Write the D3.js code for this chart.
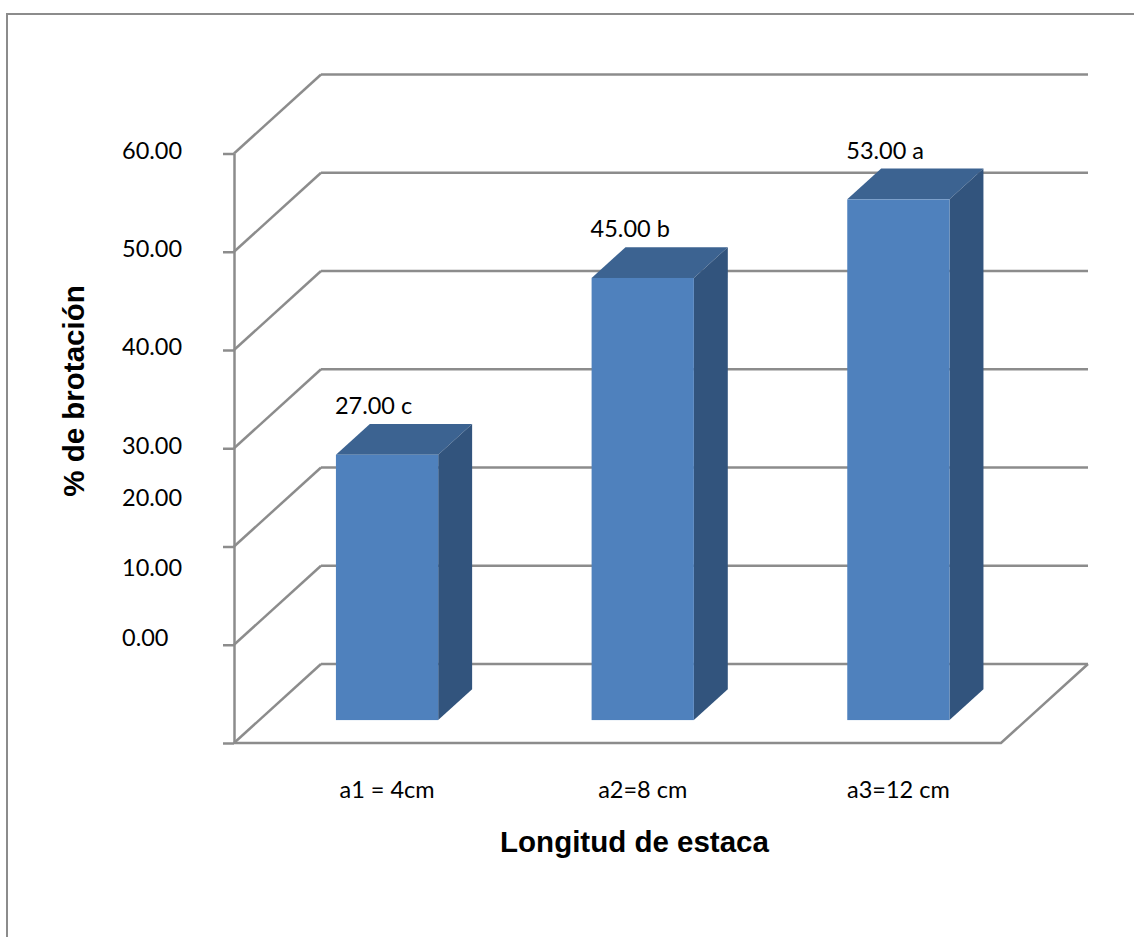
<!DOCTYPE html>
<html>
<head>
<meta charset="utf-8">
<script src="https://cdn.jsdelivr.net/npm/d3@7"></script>
<style>
  body { margin: 0; background: #fff; }
  .num { font-family: Lato, "Open Sans", sans-serif; font-size: 23.5px; fill: #000; }
  .title { font-family: "Liberation Sans", Arial, sans-serif; font-weight: bold; font-size: 29.5px; fill: #000; }
</style>
</head>
<body>
<div id="chart"></div>
<script>
// Data
const categories = ["a1 = 4cm", "a2=8 cm", "a3=12 cm"]
const values = [27, 45, 53]
const letters = ["c", "b", "a"]
const tickValues = [60, 50, 40, 30, 20, 10, 0]

const svgWidth = 1134
const svgHeight = 937

// 3D box layout: front floor edge, depth vector, top of value axis
const front = { x0: 234, x1: 1001, yBottom: 743, yTop: 153.5 }
const depth = { dx: 87, dy: -79 }
const barZ = [0.29, 0.68]
// the tick labels in the original sit off their ticks for the lower values
const tickLabelAt = [60, 50, 40, 30, 24.7, 17.6, 10.4]

const gridColor = "#8c8c8c"

let svg = d3
  .select("#chart")
  .append("svg")
  .attr("width", svgWidth)
  .attr("height", svgHeight)

// outer chart border (right / bottom run off the picture)
svg.append("rect")
  .attr("x", 7).attr("y", 14)
  .attr("width", 1200).attr("height", 1000)
  .attr("fill", "none")
  .attr("stroke", gridColor)
  .attr("stroke-width", 2)

let y = d3.scaleLinear().domain([0, 60]).range([front.yBottom, front.yTop])
let x = d3.scaleBand()
  .domain(categories)
  .range([front.x0, front.x1])
  .paddingInner(0.6)
  .paddingOuter(0.3)

// project a point at depth z (0 = front, 1 = back wall)
const px = (xv, z) => xv + z * depth.dx
const py = (yv, z) => yv + z * depth.dy
const pt = (xv, yv, z) => [px(xv, z), py(yv, z)]

let grid = svg.append("g")
  .attr("fill", "none")
  .attr("stroke", gridColor)
  .attr("stroke-width", 2.5)

// back wall lines + side wall diagonals
grid.selectAll(".back")
  .data(tickValues)
  .enter()
  .append("line")
  .attr("x1", px(front.x0, 1))
  .attr("x2", px(front.x1, 1))
  .attr("y1", d => py(y(d), 1))
  .attr("y2", d => py(y(d), 1))

grid.selectAll(".side")
  .data(tickValues)
  .enter()
  .append("line")
  .attr("x1", front.x0)
  .attr("y1", d => y(d))
  .attr("x2", px(front.x0, 1))
  .attr("y2", d => py(y(d), 1))

// floor front and right edges
grid.append("path")
  .attr("d", d3.line()([pt(front.x0, y(0), 0), pt(front.x1, y(0), 0), pt(front.x1, y(0), 1)]))

// vertical axis with ticks (labels drawn apart)
let yAxis = svg.append("g")
  .attr("transform", `translate(${front.x0},0)`)
  .call(d3.axisLeft(y).tickValues(tickValues).tickSize(11).tickSizeOuter(0).tickFormat(""))
yAxis.selectAll("path, line").attr("stroke", gridColor).attr("stroke-width", 2.5)

svg.append("g")
  .selectAll("text")
  .data(tickValues)
  .enter()
  .append("text")
  .attr("class", "num")
  .attr("x", 122)
  .attr("y", (d, i) => y(tickLabelAt[i]) - 3)
  .attr("dy", "0.36em")
  .text(d => d3.format(".2f")(d))

// bars
let bars = svg.append("g")
  .selectAll("g")
  .data(categories.map((c, i) => ({ cat: c, value: values[i], letter: letters[i] })))
  .enter()
  .append("g")

const [z0, z1] = barZ
bars.append("path")
  .attr("fill", "#3c6391")
  .attr("d", d => {
    let x0 = x(d.cat), x1 = x0 + x.bandwidth(), yt = y(d.value)
    return d3.line()([pt(x0, yt, z0), pt(x1, yt, z0), pt(x1, yt, z1), pt(x0, yt, z1)]) + "Z"
  })
bars.append("path")
  .attr("fill", "#32547d")
  .attr("d", d => {
    let x1 = x(d.cat) + x.bandwidth(), yt = y(d.value), yb = y(0)
    return d3.line()([pt(x1, yt, z0), pt(x1, yt, z1), pt(x1, yb, z1), pt(x1, yb, z0)]) + "Z"
  })
bars.append("rect")
  .attr("fill", "#4f81bd")
  .attr("x", d => px(x(d.cat), z0))
  .attr("y", d => py(y(d.value), z0))
  .attr("width", x.bandwidth())
  .attr("height", d => y(0) - y(d.value))

// value labels
bars.append("text")
  .attr("class", "num")
  .attr("x", d => px(x(d.cat), z0) - 1)
  .attr("y", d => py(y(d.value), z1) - 10)
  .text(d => d3.format(".2f")(d.value) + " " + d.letter)

// category labels
svg.append("g")
  .selectAll("text")
  .data(categories)
  .enter()
  .append("text")
  .attr("class", "num")
  .attr("text-anchor", "middle")
  .attr("x", d => px(x(d) + x.bandwidth() / 2, z0))
  .attr("y", 798)
  .text(d => d)

// axis titles
svg.append("text")
  .attr("class", "title")
  .attr("text-anchor", "middle")
  .attr("x", 634.5)
  .attr("y", 852)
  .text("Longitud de estaca")

svg.append("text")
  .attr("class", "title")
  .attr("text-anchor", "middle")
  .attr("transform", "translate(84, 391) rotate(-90)")
  .text("% de brotación")
</script>
</body>
</html>
